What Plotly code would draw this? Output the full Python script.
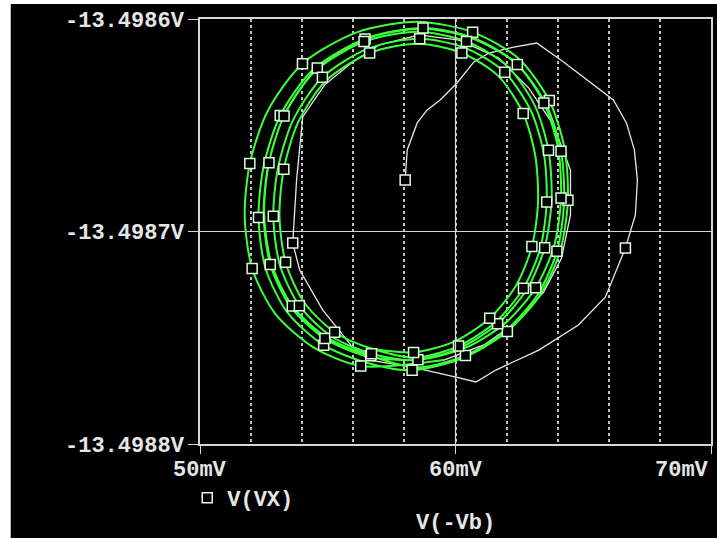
import plotly.graph_objects as go

# ---------------- data (x in mV, y in V) ----------------
x_tick_vals = [50, 60, 70]
x_tick_text = ["50mV", "60mV", "70mV"]
y_tick_vals = [-13.4988, -13.4987, -13.4986]
y_tick_text = ["-13.4988V", "-13.4987V", "-13.4986V"]

# initial transient (white)
white_x = [58.03, 58.11, 58.50, 58.89, 59.40, 60.06, 60.72, 61.31, 62.28, 63.18,
           64.23, 65.52, 66.18, 66.69, 67.00, 67.12, 67.04, 66.65, 65.87, 64.81,
           63.26, 61.58, 60.80, 60.02, 58.30, 56.63, 55.97, 54.80, 53.90, 53.63,
           53.78, 54.02, 54.87, 55.97, 57.02, 58.58, 60.14, 61.70, 62.87, 63.84,
           64.50, 64.50, 64.15, 63.45, 62.40, 61.11, 59.55]
white_y = [-13.4986758, -13.4986616, -13.4986489, -13.4986428, -13.4986381, -13.4986301,
           -13.4986202, -13.4986160, -13.4986132, -13.4986113, -13.4986202, -13.4986320,
           -13.4986381, -13.4986489, -13.4986616, -13.4986758, -13.4986922, -13.4987078,
           -13.4987308, -13.4987440, -13.4987558, -13.4987652, -13.4987708, -13.4987685,
           -13.4987638, -13.4987605, -13.4987544, -13.4987369, -13.4987181, -13.4987054,
           -13.4986758, -13.4986461, -13.4986311, -13.4986202, -13.4986122, -13.4986075,
           -13.4986099, -13.4986184, -13.4986325, -13.4986499, -13.4986711, -13.4986922,
           -13.4987125, -13.4987285, -13.4987426, -13.4987534, -13.4987605]
white_marker_idx = [0, 17, 29]

# limit-cycle loops (green)
loop1_x = [58.52, 60.67, 62.46, 63.67, 64.26, 64.40, 64.10, 63.32, 62.03, 60.31,
           58.30, 56.29, 54.44, 52.94, 52.04, 51.75, 51.95, 52.65, 54.01, 56.16]
loop1_y = [-13.4986013, -13.4986062, -13.4986185, -13.4986384, -13.4986605, -13.4986853,
           -13.4987090, -13.4987297, -13.4987470, -13.4987594, -13.4987653, -13.4987633,
           -13.4987545, -13.4987386, -13.4987174, -13.4986926, -13.4986680, -13.4986433,
           -13.4986210, -13.4986062]
loop2_x = [58.70, 60.72, 62.42, 63.56, 64.13, 64.25, 63.97, 63.23, 62.01, 60.39,
           58.49, 56.59, 54.84, 53.42, 52.57, 52.29, 52.49, 53.14, 54.43, 56.46]
loop2_y = [-13.4986046, -13.4986094, -13.4986214, -13.4986406, -13.4986622, -13.4986862,
           -13.4987093, -13.4987294, -13.4987462, -13.4987583, -13.4987640, -13.4987620,
           -13.4987535, -13.4987381, -13.4987175, -13.4986934, -13.4986694, -13.4986454,
           -13.4986238, -13.4986094]
loop3_x = [58.52, 60.43, 62.03, 63.11, 63.64, 63.76, 63.49, 62.80, 61.65, 60.12,
           58.33, 56.53, 54.89, 53.55, 52.75, 52.49, 52.67, 53.29, 54.50, 56.42]
loop3_y = [-13.4986060, -13.4986106, -13.4986222, -13.4986409, -13.4986618, -13.4986852,
           -13.4987076, -13.4987271, -13.4987434, -13.4987551, -13.4987606, -13.4987587,
           -13.4987504, -13.4987355, -13.4987155, -13.4986921, -13.4986688, -13.4986456,
           -13.4986246, -13.4986106]
loop4_x = [58.60, 60.42, 61.93, 62.95, 63.46, 63.57, 63.32, 62.66, 61.57, 60.12,
           58.42, 56.71, 55.15, 53.89, 53.12, 52.87, 53.05, 53.64, 54.79, 56.60]
loop4_y = [-13.4986093, -13.4986138, -13.4986251, -13.4986432, -13.4986635, -13.4986861,
           -13.4987078, -13.4987267, -13.4987426, -13.4987539, -13.4987593, -13.4987575,
           -13.4987494, -13.4987349, -13.4987155, -13.4986928, -13.4986703, -13.4986477,
           -13.4986274, -13.4986138]
loop5_x = [58.53, 60.25, 61.68, 62.65, 63.12, 63.23, 62.99, 62.37, 61.34, 59.97,
           58.36, 56.74, 55.27, 54.07, 53.35, 53.11, 53.28, 53.83, 54.92, 56.64]
loop5_y = [-13.4986117, -13.4986160, -13.4986269, -13.4986445, -13.4986641, -13.4986861,
           -13.4987071, -13.4987254, -13.4987408, -13.4987517, -13.4987569, -13.4987552,
           -13.4987474, -13.4987333, -13.4987145, -13.4986926, -13.4986707, -13.4986489,
           -13.4986292, -13.4986160]
loop6_x = [58.73, 60.70, 62.35, 63.46, 64.01, 64.13, 63.86, 63.14, 61.96, 60.38,
           58.53, 56.68, 54.99, 53.61, 52.79, 52.51, 52.70, 53.34, 54.59, 56.56]
loop6_y = [-13.4986042, -13.4986089, -13.4986206, -13.4986395, -13.4986606, -13.4986842,
           -13.4987068, -13.4987265, -13.4987430, -13.4987548, -13.4987604, -13.4987585,
           -13.4987501, -13.4987350, -13.4987148, -13.4986912, -13.4986677, -13.4986442,
           -13.4986230, -13.4986089]

# ---------------- build the green path ----------------
loops = [(loop1_x, loop1_y), (loop2_x, loop2_y), (loop6_x, loop6_y),
         (loop3_x, loop3_y), (loop4_x, loop4_y), (loop5_x, loop5_y)]
green_x = [white_x[-1]]
green_y = [white_y[-1]]
for lx, ly in loops:
    green_x += lx[11:] + lx[:11]
    green_y += ly[11:] + ly[:11]
green_x.append(loops[-1][0][11])
green_y.append(loops[-1][1][11])

# PSpice-style marker placement: a few points out of every seven samples
mk_idx = [i for i in range(len(green_x)) if i % 7 in (1, 4, 6)]

AX = "#d6d6d6"
TXT = "#e6e6e6"
FONT = dict(family="Liberation Mono, DejaVu Sans Mono, monospace", size=22, color=TXT, weight="bold")

fig = go.Figure()
fig.add_trace(go.Scatter(x=white_x, y=white_y, mode="lines",
                         line=dict(color="#e8e8e8", width=1.3),
                         showlegend=False, hoverinfo="skip"))
fig.add_trace(go.Scatter(x=green_x, y=green_y, mode="lines",
                         line=dict(color="#3cff3c", width=2.0, shape="spline", smoothing=0.8),
                         showlegend=False, hoverinfo="skip"))
fig.add_trace(go.Scatter(x=[white_x[i] for i in white_marker_idx],
                         y=[white_y[i] for i in white_marker_idx],
                         mode="markers", showlegend=False, hoverinfo="skip",
                         marker=dict(symbol="square", size=10, color="black",
                                     line=dict(color="#f0f0f0", width=1.5))))
fig.add_trace(go.Scatter(x=[green_x[i] for i in mk_idx], y=[green_y[i] for i in mk_idx],
                         mode="markers", name="V(VX)",
                         marker=dict(symbol="square", size=10, color="black",
                                     line=dict(color="#d8ffd8", width=1.5))))

# solid reference line at 60 mV (major grid of the original plot)
fig.add_shape(type="line", xref="x", yref="paper", x0=60, x1=60, y0=0, y1=1,
              line=dict(color=AX, width=1.2), layer="above")

# dark screen behind the plot
fig.add_shape(type="rect", xref="paper", yref="paper", x0=-0.3704, x1=1.02,
              y0=-0.23, y1=1.0353, fillcolor="black", line=dict(width=0), layer="below")

annotations = []
for v, t in zip(x_tick_vals, x_tick_text):
    annotations.append(dict(x=v, y=-0.0635, xref="x", yref="paper", text=t, showarrow=False,
                            xanchor="right" if v == 70 else "center", yanchor="middle", font=FONT))
annotations.append(dict(x=60, y=-0.186, xref="x", yref="paper", text="V(-Vb)", showarrow=False,
                        xanchor="center", yanchor="middle", font=FONT))

fig.update_layout(
    width=717, height=538,
    margin=dict(l=200, r=4, t=19, b=94),
    paper_bgcolor="white", plot_bgcolor="black",
    font=FONT,
    showlegend=True,
    legend=dict(x=-0.025, y=-0.127, xanchor="left", yanchor="middle",
                bgcolor="rgba(0,0,0,0)", font=FONT, itemwidth=30),
    annotations=annotations,
    xaxis=dict(range=[50, 70], tickvals=x_tick_vals, showticklabels=False,
               ticks="outside", ticklen=8, tickcolor=AX, tickwidth=1.2,
               showgrid=True, gridcolor=AX, gridwidth=1.2,
               showline=True, linecolor=AX, linewidth=1.5, mirror=True, zeroline=False,
               minor=dict(dtick=2, tick0=50, showgrid=True, gridcolor="#c4c4c4",
                          griddash="3px,3px", gridwidth=1.6, ticks="")),
    yaxis=dict(range=[-13.4988, -13.4986], tickvals=y_tick_vals, ticktext=y_tick_text,
               ticks="outside", ticklen=10, tickcolor=AX, tickwidth=1.2,
               showgrid=True, gridcolor=AX, gridwidth=1.2, tickfont=FONT,
               showline=True, linecolor=AX, linewidth=1.5, mirror=True, zeroline=False),
)

fig.write_html("out.html")
